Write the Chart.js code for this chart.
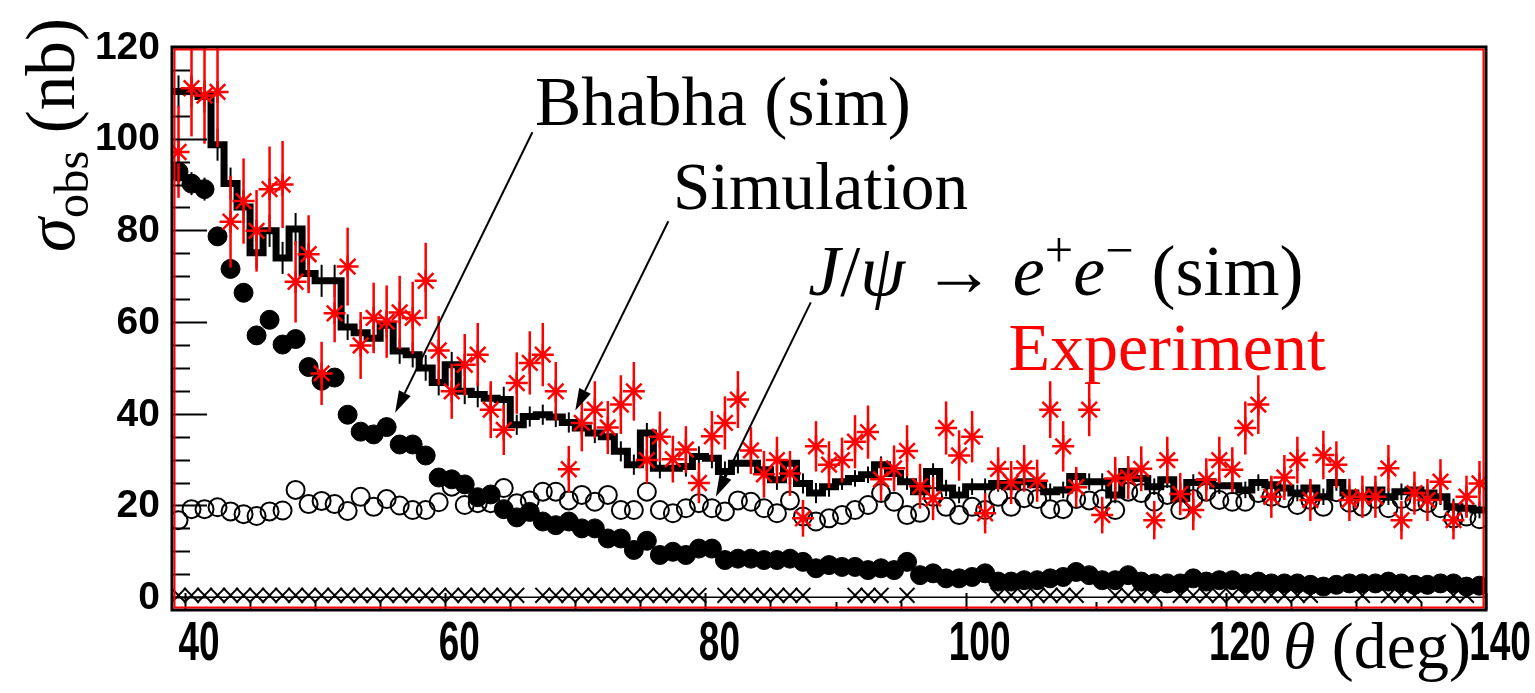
<!DOCTYPE html>
<html>
<head>
<meta charset="utf-8">
<title>sigma_obs vs theta</title>
<script src="https://cdn.jsdelivr.net/npm/chart.js@4.4.1/dist/chart.umd.min.js"></script>
<style>
html,body{margin:0;padding:0;background:#ffffff;overflow:hidden;}
#wrap{width:1535px;height:693px;}
canvas{display:block;}
</style>
</head>
<body>
<div id="wrap"><canvas id="chart" width="1535" height="693"></canvas></div>
<script>
// ================= DATA =================
const thetaBins = [39.5,40.5,41.5,42.5,43.5,44.5,45.5,46.5,47.5,48.5,
 49.5,50.5,51.5,52.5,53.5,54.5,55.5,56.5,57.5,58.5,
 59.5,60.5,61.5,62.5,63.5,64.5,65.5,66.5,67.5,68.5,
 69.5,70.5,71.5,72.5,73.5,74.5,75.5,76.5,77.5,78.5,
 79.5,80.5,81.5,82.5,83.5,84.5,85.5,86.5,87.5,88.5,
 89.5,90.5,91.5,92.5,93.5,94.5,95.5,96.5,97.5,98.5,
 99.5,100.5,101.5,102.5,103.5,104.5,105.5,106.5,107.5,108.5,
 109.5,110.5,111.5,112.5,113.5,114.5,115.5,116.5,117.5,118.5,
 119.5,120.5,121.5,122.5,123.5,124.5,125.5,126.5,127.5,128.5,
 129.5,130.5,131.5,132.5,133.5,134.5,135.5,136.5,137.5,138.5,
 139.5];
const binWidth = 1;

// Simulation (thick step histogram)
const simulation = [110.3,110.3,109.2,98.7,90.2,85.1,75.1,79.9,74.0,80.3,
 70.6,69.0,69.0,58.9,57.7,56.5,59.3,53.7,52.9,50.0,
 46.8,50.7,44.9,44.2,43.4,43.1,37.6,39.4,39.8,39.3,
 38.1,36.9,35.8,35.0,31.8,28.9,35.8,28.1,28.1,28.5,
 30.7,30.3,27.4,29.2,29.2,27.8,25.6,29.2,24.8,22.7,
 24.1,25.2,25.9,26.7,28.9,27.0,25.2,23.0,27.4,23.8,
 22.3,24.1,24.1,24.8,24.1,25.2,24.5,23.0,23.4,26.3,
 25.2,25.2,22.3,27.4,25.9,24.1,25.6,21.6,25.0,25.2,
 24.3,24.3,23.4,25.0,24.5,23.8,22.7,23.8,21.9,25.0,
 22.7,21.9,23.4,21.9,23.0,23.4,22.7,21.9,19.7,19.4,
 19.0];
const simulationErr = [3.5,3.5,3.5,3.5,3.5,3.5,3.5,3.5,3.5,3.5,
 3.5,3.5,3.5,2.8,2.8,2.8,2.8,2.8,2.8,2.8,
 2.8,2.8,2.8,2.8,2.8,2.8,2.2,2.2,2.2,2.2,
 2.2,2.2,2.2,2.2,2.2,2.2,2.2,2.2,2.2,2.2,
 2.2,2.2,2.2,2.2,2.2,2.2,2.2,2.2,2.2,2.2,
 2.2,1.8,1.8,1.8,1.8,1.8,1.8,1.8,1.8,1.8,
 1.8,1.8,1.8,1.8,1.8,1.8,1.8,1.8,1.8,1.8,
 1.8,1.8,1.8,1.8,1.8,1.8,1.8,1.8,1.8,1.8,
 1.8,1.8,1.8,1.8,1.8,1.8,1.8,1.8,1.8,1.8,
 1.8,1.8,1.8,1.8,1.8,1.8,1.8,1.8,1.8,1.8,
 1.8];

// Experiment (red stars with error bars)
const experiment = [97.1,111.0,109.4,110.2,81.9,86.4,79.9,89.0,90.0,68.8,
 74.8,48.8,61.9,72.1,54.9,60.9,60.1,62.1,60.9,69.0,
 53.8,44.9,50.7,52.9,40.9,36.5,46.7,51.1,52.9,44.9,
 27.9,38.0,40.9,37.0,42.0,44.9,29.9,35.0,30.1,32.2,
 24.9,35.1,38.0,43.1,32.0,26.8,29.9,27.0,17.2,32.9,
 28.9,29.9,33.9,36.0,25.7,28.1,31.9,24.2,21.5,36.9,
 30.9,35.0,18.3,28.0,25.0,28.1,25.4,40.9,32.9,24.0,
 40.9,17.9,25.9,26.1,28.0,16.8,29.9,22.5,19.0,25.6,
 29.9,27.8,36.9,42.0,21.9,26.1,29.9,21.2,31.0,28.9,
 21.2,21.9,21.9,28.1,16.8,22.7,21.2,25.2,16.8,21.9,
 24.8];
const experimentErr = [10,10.5,10.5,12,10,9.3,8.9,9.3,9.5,8.9,
 8.5,6.9,6.3,8.5,7.3,7.7,7.9,8,7.9,8.3,
 7.5,6,6.7,6.9,6.2,5.5,6.7,6.9,6.9,6.4,
 5.1,6.2,6.2,5.8,6.4,6.4,5.1,5.5,5.1,5.1,
 4.4,5.5,5.8,6.2,5.1,5.1,5.1,4.9,4,5.5,
 5.1,4.9,5.8,5.8,4.7,5,5.6,4.9,4.7,5.8,
 5.5,5.6,4.4,4.7,4.7,5.1,4.6,6.2,5.5,4.4,
 5.8,4,4.7,4.7,4.9,4.2,5.1,4.6,4.4,4.7,
 5.1,4.9,5.8,6.4,4.6,4.9,5.1,4.6,5.3,5.1,
 4.6,4.6,4.6,5.1,4.2,4.7,4.6,4.9,4.2,4.6,
 4.9];

// Bhabha (sim) - filled circles
const bhabha = [92.8,90.2,89.0,78.7,71.6,66.4,57.1,60.5,55.1,56.3,
 50.2,47.2,47.9,39.8,36.1,35.5,37.1,33.3,33.3,30.9,
 26.1,25.7,24.6,21.8,22.4,19.2,17.4,18.6,16.5,15.7,
 16.5,15.0,15.0,12.8,12.8,10.3,12.3,9.2,9.9,9.2,
 10.6,10.6,8.1,8.4,8.4,8.1,8.1,8.4,7.7,6.3,
 7.0,6.6,6.6,5.9,6.3,5.9,7.7,4.8,5.2,4.1,
 4.1,4.4,5.2,3.4,3.4,3.7,3.7,4.1,4.4,5.5,
 4.8,3.7,3.7,4.8,3.4,3.0,3.0,3.0,4.1,3.4,
 3.7,3.7,3.0,3.4,3.0,3.0,3.0,2.7,2.3,2.7,
 3.0,3.0,3.0,3.4,3.0,2.7,2.7,3.0,3.0,2.3,
 2.5];
const bhabhaErr = [2.5,2.5,2.5,2,2,2,2,2,2,2,
 2,2,2,1.5,1.5,1.5,1.5,1.5,1.5,1.5,
 1.5,1.5,1.5,1.5,1.5,1.5,1,1,1,1,
 1,1,1,1,1,1,1,1,1,1,
 1,1,1,1,1,1,1,1,1,1,
 1,1,1,1,1,1,1,1,1,1,
 1,1,1,1,1,1,1,1,1,1,
 1,1,1,1,1,1,1,1,1,1,
 1,1,1,1,1,1,1,1,1,1,
 1,1,1,1,1,1,1,1,1,1,
 1];

// J/psi -> e+e- (sim) - open circles
const jpsi = [16.8,19.2,19.2,19.6,18.7,18.1,17.7,18.7,18.9,23.4,
 20.3,21.0,20.3,18.8,21.9,19.7,21.4,20.0,19.0,19.0,
 20.7,24.1,20.1,20.5,20.5,23.8,20.5,21.1,23.0,23.0,
 21.1,22.3,20.8,22.3,19.0,19.0,23.0,19.0,18.3,19.4,
 20.5,19.4,18.7,21.1,20.8,19.4,18.3,21.1,17.6,16.5,
 17.2,17.9,19.0,20.1,22.7,20.8,17.9,18.4,21.9,19.7,
 17.9,19.7,19.0,21.9,19.7,21.6,21.4,19.2,19.2,21.4,
 21.1,21.4,19.0,23.0,22.7,20.8,22.3,19.0,21.4,23.0,
 21.2,20.8,20.8,22.7,21.9,21.6,20.1,21.2,19.7,22.9,
 20.6,19.7,21.4,19.4,21.4,20.8,20.5,19.4,17.2,17.6,
 17.0];

// near-zero component (x markers), null = no marker
const background = [0.4,0.4,0.4,0.4,0.4,0.4,0.4,0.4,0.4,0.4,
 0.4,0.4,0.4,0.4,0.4,0.4,0.4,0.4,0.4,0.4,
 0.4,0.4,0.4,0.4,0.4,0.4,0.4,null,0.4,0.4,
 0.4,0.4,0.4,0.4,0.4,0.4,0.4,0.4,0.4,0.4,
 0.4,null,0.4,0.4,0.4,0.4,0.4,0.4,0.4,null,
 null,null,0.4,0.4,0.4,null,0.4,null,null,null,
 null,null,null,0.4,0.4,0.4,0.4,0.4,0.4,0.4,
 null,null,0.4,0.4,0.4,0.4,null,0.4,0.4,0.4,
 0.4,0.4,0.4,0.4,0.4,0.4,0.4,0.4,null,null,
 null,0.4,null,0.4,0.4,0.4,null,null,0.4,0.4,
 null];

const xTickLabels = ['40','60','80','100','120','140'];
const yTickLabels = ['0','20','40','60','80','100','120'];
const axisRange = {xMin: 39, xMax: 140, yMin: -2.8, yMax: 120};

// ================= TEXT / ANNOTATIONS =================
const SERIF = '"Liberation Serif","DejaVu Serif","Times New Roman",serif';
const SANS = '"Liberation Sans",Arial,Helvetica,sans-serif';

const annotations = [
  {segs:[{t:'Bhabha (sim)'}], x0:66.9, x1:95.8, base:103.0, color:'#000000'},
  {segs:[{t:'Simulation'}], x0:77.5, x1:100.2, base:84.6, color:'#000000'},
  {segs:[{t:'J',it:1},{t:'/'},{t:'\u03C8',it:1},{t:' \u2192 '},{t:'e',it:1},{t:'+',sup:1},{t:'e',it:1},{t:'\u2212',sup:1},{t:' (sim)'}], x0:87.9, x1:127.7, base:65.8, color:'#000000'},
  {segs:[{t:'Experiment'}], x0:103.3, x1:127.7, base:49.5, color:'#ff0000'}
];
const arrows = [
  {from:[66.7,101.4], to:[56.15,40.2]},
  {from:[77.15,82.0], to:[70.0,40.7]},
  {from:[88.1,64.3], to:[80.8,21.9]}
];
const xTitle = [{t:'\u03B8',it:1},{t:' (deg)'}];
const yTitle = [{t:'\u03C3',it:1},{t:'obs',sub:1},{t:' (nb)'}];

function segFont(s, size){
  const fs = (s.sup || s.sub) ? size*0.7 : size;
  return (s.it ? 'italic ' : '') + fs + 'px ' + SERIF;
}
function segsWidth(ctx, segs, size){
  let w = 0;
  for (const s of segs){ ctx.font = segFont(s,size); w += ctx.measureText(s.t).width; }
  return w;
}
function drawSegs(ctx, segs, x, y, size){
  let cx = x;
  ctx.textAlign = 'left'; ctx.textBaseline = 'alphabetic';
  for (const s of segs){
    ctx.font = segFont(s,size);
    const dy = s.sup ? -size*0.40 : (s.sub ? size*0.20 : 0);
    ctx.fillText(s.t, cx, y + dy);
    cx += ctx.measureText(s.t).width;
  }
}
function fitSize(ctx, segs, target, lo, hi){
  const w = segsWidth(ctx, segs, 60);
  return Math.max(lo, Math.min(hi, 60*target/w));
}
function drawArrow(ctx, x0, y0, x1, y1){
  const ang = Math.atan2(y1-y0, x1-x0);
  const L = 22, H = 6.5;
  const bx = x1 - L*Math.cos(ang), by = y1 - L*Math.sin(ang);
  ctx.strokeStyle = '#000'; ctx.fillStyle = '#000'; ctx.lineWidth = 2;
  ctx.beginPath(); ctx.moveTo(x0,y0); ctx.lineTo(bx,by); ctx.stroke();
  ctx.beginPath();
  ctx.moveTo(x1,y1);
  ctx.lineTo(bx + H*Math.sin(ang), by - H*Math.cos(ang));
  ctx.lineTo(bx - H*Math.sin(ang), by + H*Math.cos(ang));
  ctx.closePath(); ctx.fill();
}

// ================= CHART =================
const xyPairs = (ys) => thetaBins.map((x,i)=>({x, y: ys[i]})).filter(p => p.y !== null);
const histPoints = thetaBins.map((c,i)=>({x: c - binWidth/2, y: simulation[i]}));
histPoints.push({x: thetaBins[thetaBins.length-1] + binWidth/2, y: simulation[simulation.length-1]});
const zeroLine = [{x: axisRange.xMin, y: 0}, {x: axisRange.xMax, y: 0}];

const decor = {
  id: 'decor',
  beforeDatasetsDraw(chart){
    const {ctx, chartArea:a, scales:{x,y}} = chart;
    ctx.save();
    ctx.beginPath(); ctx.rect(a.left, a.top, a.right-a.left, a.bottom-a.top); ctx.clip();
    ctx.strokeStyle = '#000'; ctx.lineWidth = 2;
    thetaBins.forEach((c,i)=>{
      const px = x.getPixelForValue(c);
      ctx.beginPath();
      ctx.moveTo(px, y.getPixelForValue(simulation[i]-simulationErr[i]));
      ctx.lineTo(px, y.getPixelForValue(simulation[i]+simulationErr[i]));
      ctx.stroke();
      ctx.beginPath();
      ctx.moveTo(px, y.getPixelForValue(bhabha[i]-bhabhaErr[i]));
      ctx.lineTo(px, y.getPixelForValue(bhabha[i]+bhabhaErr[i]));
      ctx.stroke();
    });
    ctx.restore();
  },
  afterDatasetsDraw(chart){
    const {ctx, chartArea:a, scales:{x,y}} = chart;
    ctx.save();
    ctx.beginPath(); ctx.rect(a.left, a.top, a.right-a.left, a.bottom-a.top); ctx.clip();
    ctx.strokeStyle = '#ff0000'; ctx.lineWidth = 2.5;
    thetaBins.forEach((c,i)=>{
      const px = x.getPixelForValue(c);
      ctx.beginPath();
      ctx.moveTo(px, y.getPixelForValue(experiment[i]-experimentErr[i]));
      ctx.lineTo(px, y.getPixelForValue(experiment[i]+experimentErr[i]));
      ctx.stroke();
    });
    ctx.restore();
  },
  afterDraw(chart){
    const {ctx, chartArea:a, scales:{x,y}} = chart;
    ctx.save();
    // ticks (inside frame)
    ctx.strokeStyle = '#000'; ctx.lineWidth = 2;
    const yMajor = yTickLabels.map(Number);
    const yStep = (yMajor[1]-yMajor[0])/4;
    for (let v = yMajor[0]; v <= yMajor[yMajor.length-1] + 1e-6; v += yStep){
      const py = Math.round(y.getPixelForValue(v)) + 0.5;
      const major = yMajor.some(m => Math.abs(m-v) < 1e-6);
      ctx.beginPath(); ctx.moveTo(a.left, py); ctx.lineTo(a.left + (major ? 35 : 18), py); ctx.stroke();
    }
    const xMajor = xTickLabels.map(Number);
    const xStep = (xMajor[1]-xMajor[0])/4;
    for (let v = xMajor[0]; v <= xMajor[xMajor.length-1] + 1e-6; v += xStep){
      const px = Math.round(x.getPixelForValue(v)) + 0.5;
      const major = xMajor.some(m => Math.abs(m-v) < 1e-6);
      ctx.beginPath(); ctx.moveTo(px, a.bottom); ctx.lineTo(px, a.bottom - (major ? 17 : 8)); ctx.stroke();
    }
    // frame: black outer, red inner
    ctx.strokeStyle = '#000'; ctx.lineWidth = 3;
    ctx.strokeRect(a.left, a.top, a.right-a.left, a.bottom-a.top);
    ctx.strokeStyle = '#ff0000'; ctx.lineWidth = 2;
    ctx.strokeRect(a.left+2.5, a.top+2.5, a.right-a.left-5, a.bottom-a.top-5);

    // tick labels
    ctx.fillStyle = '#000';
    ctx.font = 'bold 39px ' + SANS;
    ctx.textAlign = 'right'; ctx.textBaseline = 'middle';
    yTickLabels.forEach(l => ctx.fillText(l, a.left - 12, y.getPixelForValue(Number(l)) + 1));
    ctx.font = 'bold 56px ' + SANS;
    ctx.textAlign = 'center'; ctx.textBaseline = 'alphabetic';
    xTickLabels.forEach(l => {
      ctx.save();
      ctx.translate(x.getPixelForValue(Number(l)) + 14, a.bottom + 50);
      ctx.scale(0.66, 1);
      ctx.fillText(l, 0, 0);
      ctx.restore();
    });

    // axis titles
    const xs = fitSize(ctx, xTitle, 188, 58, 74);
    drawSegs(ctx, xTitle, 1283, 668, xs);
    ctx.save();
    ctx.translate(74, 252);
    ctx.rotate(-Math.PI/2);
    const ys = fitSize(ctx, yTitle, 234, 58, 74);
    drawSegs(ctx, yTitle, 0, 0, ys);
    ctx.restore();

    // annotations
    annotations.forEach(an => {
      const x0 = x.getPixelForValue(an.x0), x1 = x.getPixelForValue(an.x1);
      const size = fitSize(ctx, an.segs, x1-x0, 56, 72);
      ctx.fillStyle = an.color;
      drawSegs(ctx, an.segs, x0, y.getPixelForValue(an.base), size);
    });
    arrows.forEach(ar => drawArrow(ctx,
      x.getPixelForValue(ar.from[0]), y.getPixelForValue(ar.from[1]),
      x.getPixelForValue(ar.to[0]), y.getPixelForValue(ar.to[1])));
    ctx.restore();
  }
};

new Chart(document.getElementById('chart').getContext('2d'), {
  type: 'scatter',
  data: {
    datasets: [
      {label:'Experiment', data: xyPairs(experiment), pointStyle:'star', pointRadius:11,
       pointBorderColor:'#ff0000', pointBackgroundColor:'#ff0000', pointBorderWidth:2.5, showLine:false},
      {label:'Simulation', type:'line', data: histPoints, stepped:'before', borderColor:'#000000',
       borderWidth:7, pointRadius:0, fill:false, borderJoinStyle:'miter', borderCapStyle:'butt'},
      {label:'Bhabha (sim)', data: xyPairs(bhabha), pointStyle:'circle', pointRadius:9.5,
       pointBackgroundColor:'#000000', pointBorderColor:'#000000', pointBorderWidth:1, showLine:false},
      {label:'J/psi -> e+e- (sim)', data: xyPairs(jpsi), pointStyle:'circle', pointRadius:9,
       pointBackgroundColor:'rgba(0,0,0,0)', pointBorderColor:'#000000', pointBorderWidth:2, showLine:false},
      {label:'other', data: xyPairs(background), pointStyle:'crossRot', pointRadius:10.5,
       pointBorderColor:'#000000', pointBorderWidth:2, showLine:false},
      {label:'zero', type:'line', data: zeroLine, borderColor:'#000000', borderWidth:1.5, pointRadius:0, fill:false}
    ]
  },
  options: {
    responsive: false,
    animation: false,
    devicePixelRatio: 1,
    events: [],
    layout: {padding: {top: 47, right: 49, left: 0, bottom: 0}},
    plugins: {legend: {display: false}, tooltip: {enabled: false}},
    scales: {
      x: {type:'linear', min: axisRange.xMin, max: axisRange.xMax,
          grid:{display:false}, border:{display:false}, ticks:{display:false},
          afterFit(s){ s.height = 83; }},
      y: {type:'linear', min: axisRange.yMin, max: axisRange.yMax,
          grid:{display:false}, border:{display:false}, ticks:{display:false},
          afterFit(s){ s.width = 172; }}
    }
  },
  plugins: [decor]
});
</script>
</body>
</html>
